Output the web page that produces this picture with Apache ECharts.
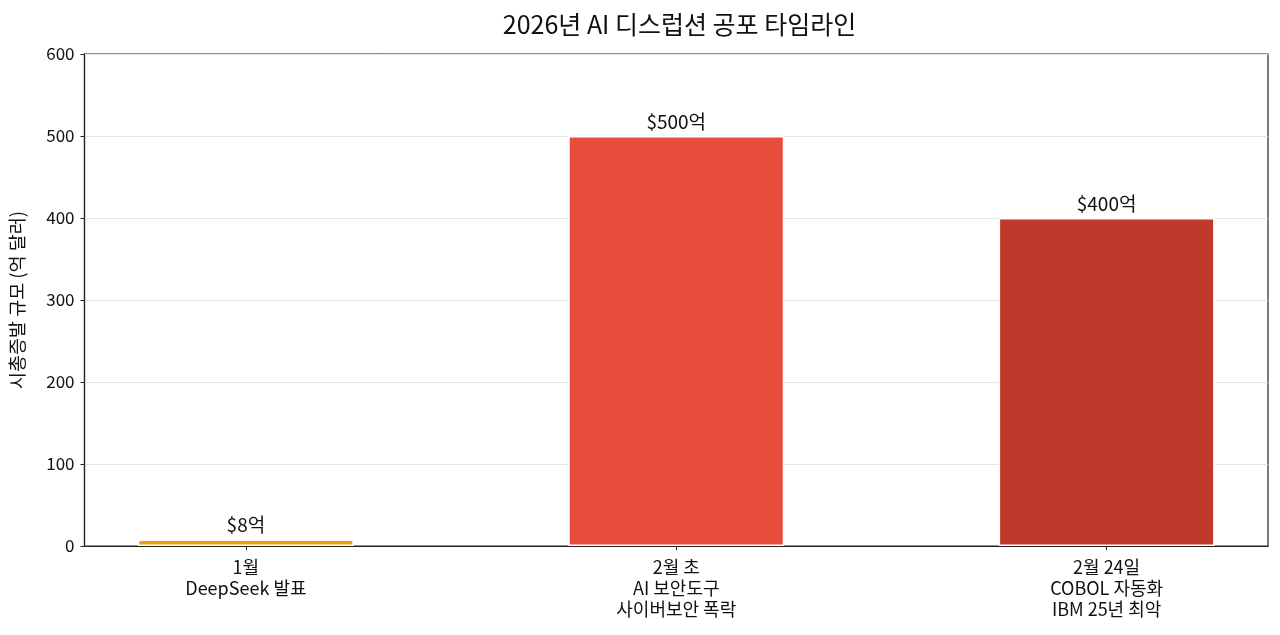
<!DOCTYPE html>
<html><head><meta charset="utf-8">
<script src="https://cdn.jsdelivr.net/npm/echarts@6/dist/echarts.min.js"></script>
<style>html,body{margin:0;padding:0;background:#fff}#c{width:1280px;height:635px}</style>
</head><body><div id="c"></div>
<script>
const categories = ['1월\nDeepSeek 발표', '2월 초\nAI 보안도구\n사이버보안 폭락', '2월 24일\nCOBOL 자동화\nIBM 25년 최악'];
const values = [8, 500, 400];
const valueLabels = ['$8억', '$500억', '$400억'];
const colors = ['#f39c12', '#e74c3c', '#c0392b'];
const yTicks = [0, 100, 200, 300, 400, 500, 600];

const FONT = '"Noto Sans CJK KR", "Noto Sans", sans-serif';
const chart = echarts.init(document.getElementById('c'));
chart.setOption({
  animation: false,
  title: {
    text: '2026년 AI 디스럽션 공포 타임라인',
    left: 674.5, top: 7, textAlign: 'center',
    textStyle: { fontFamily: FONT, fontSize: 25, fontWeight: 'normal', color: '#111' }
  },
  grid: { left: 81, right: 12, top: 54, bottom: 89, show: true, borderColor: '#222', borderWidth: 1.2, containLabel: false },
  xAxis: {
    type: 'value', min: -0.375, max: 2.375,
    splitLine: { show: false },
    axisLine: { show: true, onZero: false, lineStyle: { color: '#222', width: 1.2 } },
    axisTick: { show: true, customValues: [0, 1, 2], length: 4, lineStyle: { color: '#222' } },
    axisLabel: {
      customValues: [0, 1, 2], margin: 11,
      formatter: v => categories[Math.round(v)],
      fontFamily: FONT, fontSize: 18, color: '#111', lineHeight: 21, align: 'center'
    }
  },
  yAxis: {
    type: 'value', min: 0, max: 600, interval: 100,
    name: '시총증발 규모 (억 달러)', nameLocation: 'middle', nameGap: 58, nameRotate: 90,
    nameTextStyle: { fontFamily: FONT, fontSize: 18.5, color: '#111' },
    axisLine: { show: true, onZero: false, lineStyle: { color: '#222', width: 1.2 } },
    axisTick: { show: true, length: 4, lineStyle: { color: '#222' } },
    axisLabel: { fontFamily: FONT, fontSize: 17, color: '#111', margin: 10,
      formatter: v => yTicks.includes(v) ? String(v) : '' },
    splitLine: { show: true, lineStyle: { color: '#e6e6e6', width: 1 } }
  },
  series: [{
    type: 'bar',
    barWidth: 216,
    data: values.map((v, i) => ({
      value: [i, v],
      itemStyle: { color: colors[i], borderColor: '#fff', borderWidth: 1.5 },
      label: { show: true, position: 'top', distance: 5, formatter: valueLabels[i],
        fontFamily: FONT, fontSize: 19, color: '#111' }
    }))
  }]
});
</script></body></html>
